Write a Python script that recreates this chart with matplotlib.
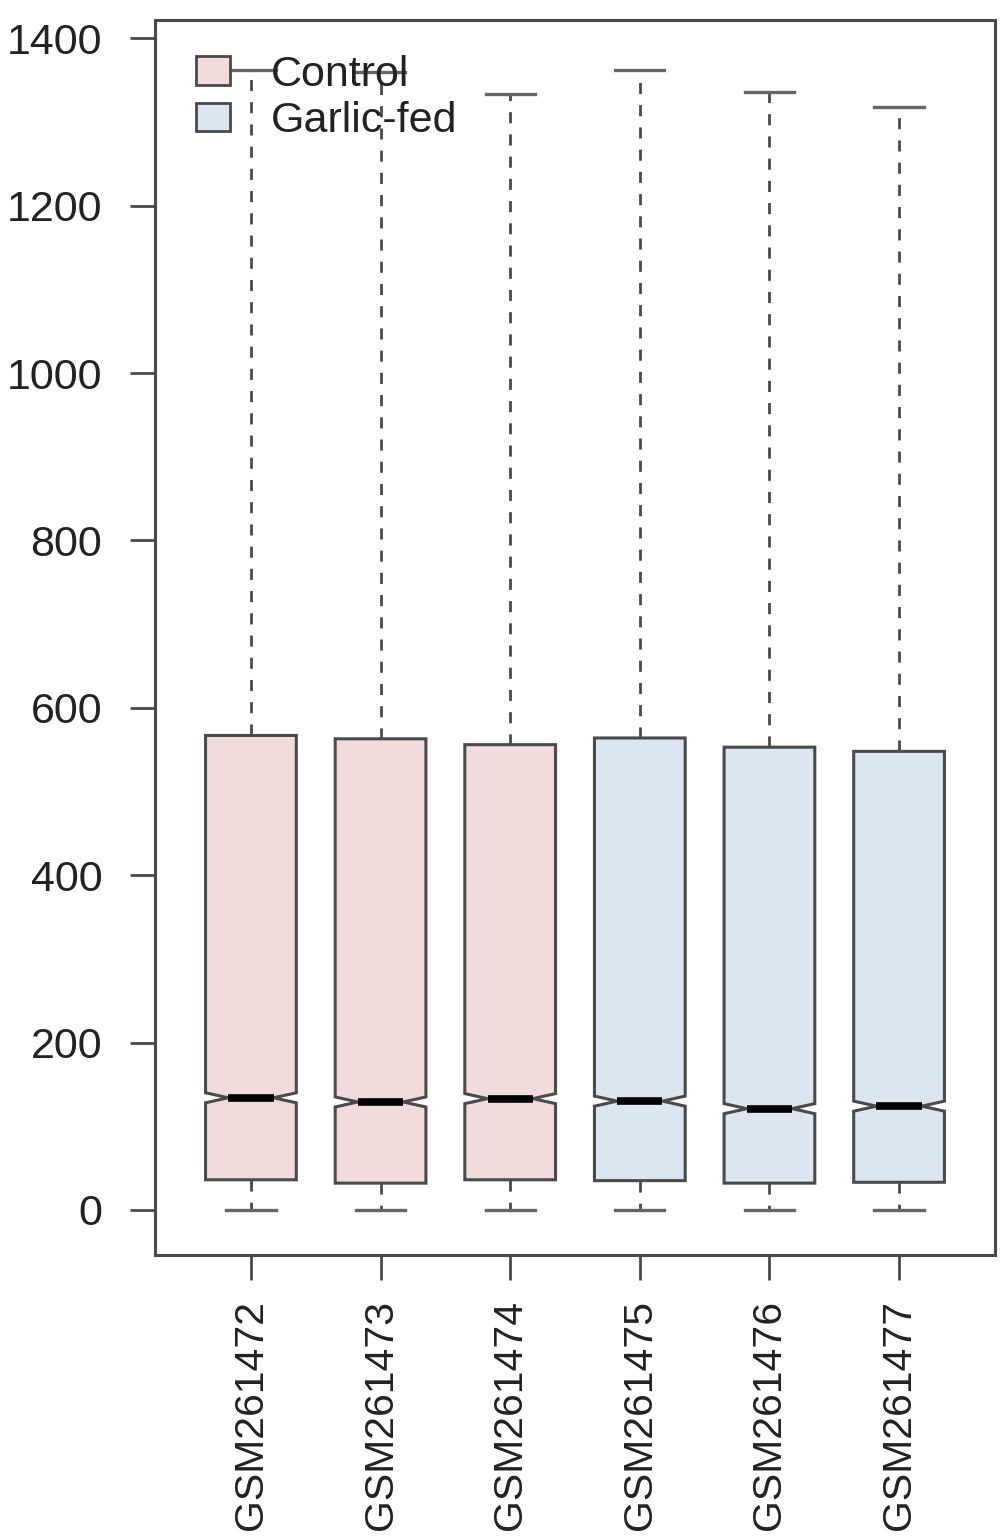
import matplotlib.pyplot as plt
from matplotlib.patches import Patch

plt.rcParams["font.family"] = ["Liberation Sans", "DejaVu Sans"]

samples = ["GSM261472", "GSM261473", "GSM261474", "GSM261475", "GSM261476", "GSM261477"]
groups = ["Control", "Control", "Control", "Garlic-fed", "Garlic-fed", "Garlic-fed"]
whisker_low = [0, 0, 0, 0, 0, 0]
q1 = [36, 32, 36, 35, 32, 33]
median = [134, 129, 133, 130, 121, 124]
q3 = [567, 563, 556, 564, 553, 548]
whisker_high = [1362, 1360, 1334, 1362, 1336, 1318]
notch_half = [6, 6, 6, 6, 6, 6]

group_colors = {"Control": "#F2DCDB", "Garlic-fed": "#DCE6F1"}
edge = "#4a4a4a"

stats = []
for i, name in enumerate(samples):
    stats.append({
        "label": name,
        "whislo": whisker_low[i],
        "q1": q1[i],
        "med": median[i],
        "q3": q3[i],
        "whishi": whisker_high[i],
        "cilo": median[i] - notch_half[i],
        "cihi": median[i] + notch_half[i],
        "fliers": [],
    })

fig = plt.figure(figsize=(10, 15.4), dpi=100)
ax = fig.add_axes([0.155, 0.185, 0.84, 0.802])

positions = list(range(1, len(samples) + 1))
bp = ax.bxp(
    stats,
    positions=positions,
    widths=0.7,
    shownotches=True,
    patch_artist=True,
    capwidths=0.38,
    boxprops=dict(edgecolor=edge, linewidth=2.2),
    medianprops=dict(color="black", linewidth=5.5),
    whiskerprops=dict(color=edge, linewidth=2, linestyle=(0, (4, 4))),
    capprops=dict(color="#666666", linewidth=2.4),
)
for box, g in zip(bp["boxes"], groups):
    box.set_facecolor(group_colors[g])

ax.set_xlim(0.26, 6.74)
ax.set_ylim(-54, 1422)
ax.set_yticks([0, 200, 400, 600, 800, 1000, 1200, 1400])
ax.set_xticks(positions)
ax.set_xticklabels(samples, rotation=90)

ax.tick_params(axis="both", length=18, width=2, color=edge, labelcolor="#222222")
ax.tick_params(axis="y", pad=20, labelsize=31)
ax.tick_params(axis="x", pad=14, labelsize=29.5)
for sp in ax.spines.values():
    sp.set_color(edge)
    sp.set_linewidth(2.2)

handles = [Patch(facecolor=group_colors[g], edgecolor=edge, linewidth=2, label=g)
           for g in ["Control", "Garlic-fed"]]
ax.legend(handles=handles, loc="upper left", bbox_to_anchor=(0.0, 1.005),
          frameon=False, fontsize=31,
          handlelength=0.8, handleheight=0.65, handletextpad=0.95,
          borderaxespad=0.55, labelspacing=0.15, labelcolor="#222222")

fig.savefig("out.png", dpi=100)
